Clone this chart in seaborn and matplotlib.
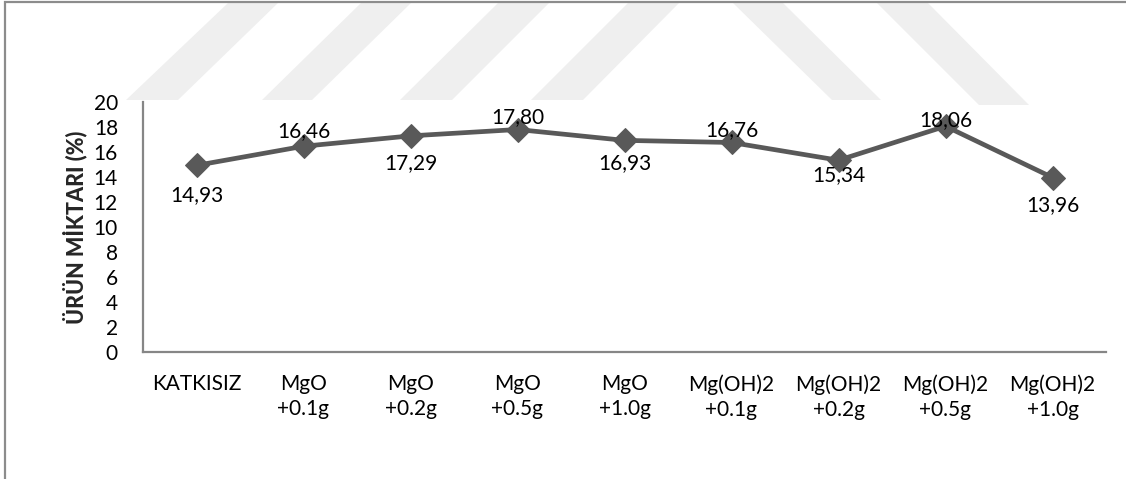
import matplotlib
matplotlib.use("Agg")
import matplotlib.pyplot as plt
from matplotlib.patches import Polygon, Rectangle
import seaborn as sns
import pandas as pd

categories = ["KATKISIZ", "MgO\n+0.1g", "MgO\n+0.2g", "MgO\n+0.5g", "MgO\n+1.0g",
              "Mg(OH)2\n+0.1g", "Mg(OH)2\n+0.2g", "Mg(OH)2\n+0.5g", "Mg(OH)2\n+1.0g"]
values = [14.93, 16.46, 17.29, 17.80, 16.93, 16.76, 15.34, 18.06, 13.96]
value_labels = ["14,93", "16,46", "17,29", "17,80", "16,93", "16,76", "15,34", "18,06", "13,96"]
y_ticks = [0, 2, 4, 6, 8, 10, 12, 14, 16, 18, 20]
y_title = "ÜRÜN MİKTARI (%)"

# vertical label offsets (pixels) for each data label
label_dy = [-30, 15, -27, 12, -23, 12, -15, 6, -28]

sns.set_theme(style="white")
plt.rcParams["font.family"] = ["Lato", "DejaVu Sans"]

W, H = 1126, 479
fig = plt.figure(figsize=(W / 100, H / 100), dpi=100)
fig.patch.set_facecolor("white")

def fx(px):
    return px / W

def fy(py):
    return 1 - py / H

# faint background stripes
stripes = [
    [(126, 100), (178, 100), (278, 3), (228, 3)],
    [(262, 100), (312, 100), (411, 3), (361, 3)],
    [(400, 100), (452, 100), (549, 3), (498, 3)],
    [(531, 100), (583, 100), (679, 3), (628, 3)],
    [(733, 3), (783, 3), (881, 100), (832, 100)],
    [(877, 3), (928, 3), (1029, 105), (979, 105)],
]
for s in stripes:
    fig.patches.append(Polygon([(fx(x), fy(y)) for x, y in s], closed=True,
                               transform=fig.transFigure, facecolor="#efefef",
                               edgecolor="none", zorder=0))

# outer frame
fig.patches.append(Rectangle((fx(5), -0.2), 1.3, fy(2) + 0.2, transform=fig.transFigure,
                             facecolor="none", edgecolor="#8c8c8c", linewidth=1.6, zorder=1))

ax = fig.add_axes([fx(143), fy(352), fx(1106) - fx(143), fy(102) - fy(352)])
ax.set_facecolor("none")

df = pd.DataFrame({"pos": range(len(values)), "value": values})
sns.lineplot(data=df, x="pos", y="value", ax=ax, color="#595959", linewidth=3.4,
             marker="D", markersize=12, markeredgecolor="#595959", zorder=3)

for i, (v, lab) in enumerate(zip(values, value_labels)):
    ax.annotate(lab, (i, v), xytext=(0, label_dy[i] * 0.72), textcoords="offset points",
                ha="center", va="center", fontsize=15, color="black", zorder=4)

ax.set_xlim(-0.5, len(values) - 0.5)
ax.set_ylim(0, 20)
ax.set_yticks(y_ticks)
ax.set_yticklabels([str(t) for t in y_ticks], fontsize=15)
ax.set_xticks(range(len(categories)))
ax.set_xticklabels(categories, fontsize=15, linespacing=1.3, va="top")
ax.tick_params(axis="both", length=0, colors="black")
ax.tick_params(axis="y", pad=18)
ax.tick_params(axis="x", pad=16)
ax.set_xlabel("")
ax.set_ylabel(y_title, fontsize=15.5, fontweight="black", labelpad=5)

for side in ["top", "right"]:
    ax.spines[side].set_visible(False)
for side in ["left", "bottom"]:
    ax.spines[side].set_color("#868686")
    ax.spines[side].set_linewidth(1.6)

fig.savefig("out.png", dpi=100)
